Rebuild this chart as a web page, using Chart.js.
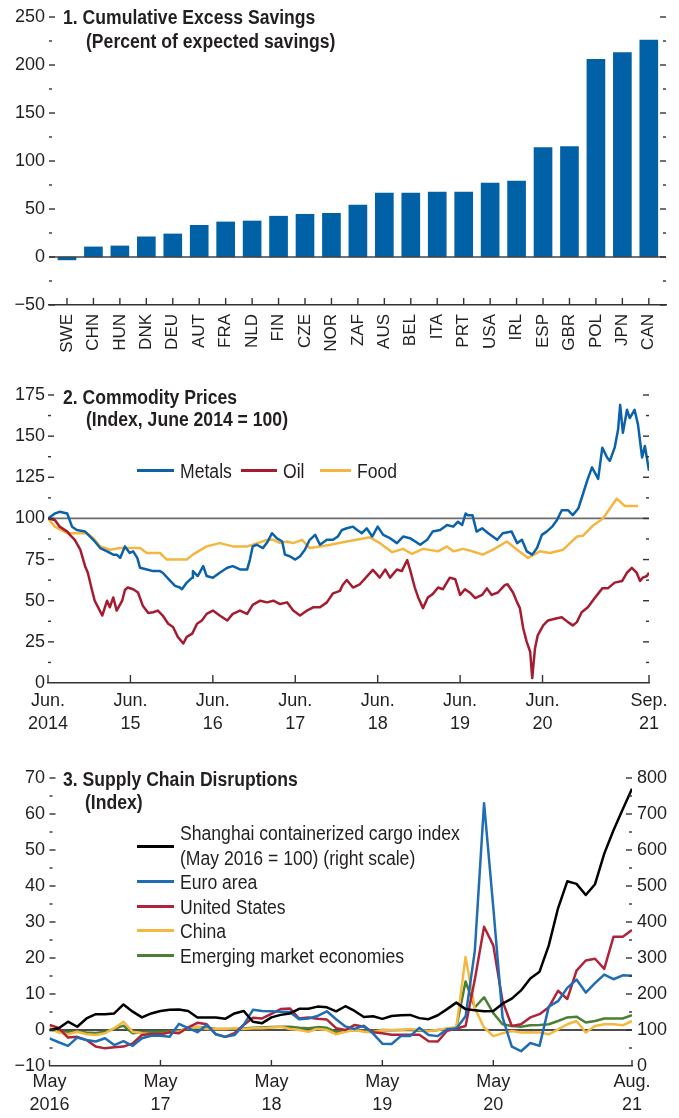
<!DOCTYPE html>
<html><head><meta charset="utf-8">
<script src="https://cdn.jsdelivr.net/npm/chart.js@4.4.1/dist/chart.umd.min.js"></script>
<style>
html,body{margin:0;padding:0;background:#fff;}
body{width:679px;height:1118px;position:relative;overflow:hidden;font-family:'Liberation Sans',Arial,sans-serif;color:#231f20;}
canvas{position:absolute;left:0;}
.t{position:absolute;font-weight:bold;font-size:20px;white-space:nowrap;line-height:20px;transform:scaleX(0.88);transform-origin:0 0;}
.lg{position:absolute;font-size:20px;white-space:nowrap;line-height:20px;transform:scaleX(0.88);transform-origin:0 0;}
.sw{position:absolute;height:3px;}
</style></head><body>
<canvas id="c1" width="679" height="360" style="top:0px"></canvas>
<canvas id="c2" width="679" height="380" style="top:360px"></canvas>
<canvas id="c3" width="679" height="378" style="top:740px"></canvas>

<div class="t" style="left:63px;top:7px">1. Cumulative Excess Savings</div>
<div class="t" style="left:86px;top:31px">(Percent of expected savings)</div>

<div class="t" style="left:63px;top:387px">2. Commodity Prices</div>
<div class="t" style="left:86px;top:409px">(Index, June 2014 = 100)</div>
<div class="sw" style="left:137px;width:37px;top:469px;background:#0b62ab"></div>
<div class="lg" style="left:180px;top:461px">Metals</div>
<div class="sw" style="left:241px;width:36px;top:469px;background:#a51c30"></div>
<div class="lg" style="left:283px;top:461px">Oil</div>
<div class="sw" style="left:320px;width:31px;top:469px;background:#f4b63f"></div>
<div class="lg" style="left:357px;top:461px">Food</div>

<div class="t" style="left:63px;top:769px">3. Supply Chain Disruptions</div>
<div class="t" style="left:85px;top:792px">(Index)</div>
<div class="sw" style="left:137px;width:37px;top:845px;background:#000"></div>
<div class="lg" style="left:180px;top:823px">Shanghai containerized cargo index</div>
<div class="lg" style="left:180px;top:848px">(May 2016 = 100) (right scale)</div>
<div class="sw" style="left:137px;width:37px;top:880px;background:#1f6db5"></div>
<div class="lg" style="left:180px;top:872px">Euro area</div>
<div class="sw" style="left:137px;width:37px;top:905px;background:#b0243a"></div>
<div class="lg" style="left:180px;top:897px">United States</div>
<div class="sw" style="left:137px;width:37px;top:929px;background:#f5b942"></div>
<div class="lg" style="left:180px;top:921px">China</div>
<div class="sw" style="left:137px;width:37px;top:954px;background:#4b7f33"></div>
<div class="lg" style="left:180px;top:946px">Emerging market economies</div>

<script>
// ---------- Panel 1 data ----------
const savingsCountries = ['SWE','CHN','HUN','DNK','DEU','AUT','FRA','NLD','FIN','CZE','NOR','ZAF','AUS','BEL','ITA','PRT','USA','IRL','ESP','GBR','POL','JPN','CAN'];
const savingsValues = [-3,10.5,11.5,21,24,33,36.5,37.5,42.5,44.5,45.5,54,66.5,66.5,67.5,67.5,77,79,114,115,206,213,226];
const savingsTicks = [-50,0,50,100,150,200,250];

// ---------- Panel 2 data (x = months since June 2014) ----------
const commodityTickMonths = [0,12,24,36,48,60,72,87.5];
const commodityTickLabels = [['Jun.','2014'],['Jun.','15'],['Jun.','16'],['Jun.','17'],['Jun.','18'],['Jun.','19'],['Jun.','20'],['Sep.','21']];
const commodityTicks = [0,25,50,75,100,125,150,175];
const metals = [[0,100],[1.0,103],[1.7,104],[2.8,103],[3.5,95],[4.2,93],[5.4,92],[6.6,87],[7.6,82],[8.6,80],[9.5,78],[10.0,78],[10.5,76],[11.2,83],[11.9,79],[12.4,80],[13.0,76],[13.4,70],[14.4,69],[15.3,68],[16.3,68],[16.7,67],[17.8,62],[18.5,59],[19.2,58],[19.5,57],[20.2,61],[21.0,64],[21.1,68],[21.8,65],[22.6,71],[23.1,65],[24.0,64],[25.0,67],[26.1,70],[26.9,71],[27.95,69],[29.0,69],[29.4,75],[29.8,83],[30.4,84],[31.3,82],[32.0,86],[32.6,91],[33.3,88],[34.1,86],[34.5,78],[35.2,77],[36.0,75],[36.7,77],[37.4,81],[38.1,87],[38.9,90],[39.6,84],[40.6,87],[41.5,87],[42.2,89],[42.8,93],[43.5,94],[44.4,95],[45.0,93],[45.7,91],[46.4,94],[47.2,89],[48.0,95],[48.8,90],[49.8,88],[50.8,85],[51.7,89],[52.7,88],[54.2,84],[55.2,87],[56.0,92],[57.1,93],[58.1,96],[59.0,95],[59.7,98],[60.3,96],[60.8,103],[61.1,102],[61.8,102],[62.4,92],[63.2,94],[64.1,91],[65.4,87],[66.2,91],[67.5,92],[68.3,85],[69.0,87],[69.7,80],[70.5,78],[71.2,82],[71.9,90],[72.6,92],[73.4,95],[74.1,99],[74.8,105],[75.7,105],[76.4,102],[77.2,106],[77.9,115],[78.5,123],[79.2,131],[79.6,128],[80.1,124],[80.7,143],[81.4,137],[81.8,135],[82.5,143],[83.0,154],[83.3,169],[83.7,152],[84.3,166],[84.7,161],[85.4,166],[85.9,157],[86.5,137],[86.9,144],[87.5,129]];
const oil = [[0,100],[1.0,99],[1.7,95],[2.8,92],[3.2,90],[3.9,87],[4.7,81],[5.4,71],[5.8,67],[6.4,56.5],[6.8,50],[7.3,46],[7.9,41],[8.6,50],[9.0,46],[9.5,52],[10.0,44],[10.8,50],[11.2,56.5],[11.6,58],[12.4,57],[13.1,55],[13.8,47],[14.6,42.5],[15.3,43],[16.0,44],[16.7,41],[17.5,36],[18.2,34],[18.9,28],[19.7,24],[20.2,28],[21.0,30],[21.7,36],[22.4,38],[23.1,42],[24.0,44],[25.0,41],[26.1,38],[26.9,42],[27.95,44],[29.0,42],[29.8,47.5],[30.9,50],[31.9,49],[32.8,50],[33.8,48],[34.8,49],[35.7,44],[36.7,41],[37.7,44],[38.6,46],[39.6,46],[40.6,49],[41.5,54.5],[42.5,56],[42.9,59.5],[43.5,62.6],[44.4,58],[45.4,60],[46.4,64.6],[47.3,68.7],[48.3,64],[49.1,69],[49.8,64],[50.8,69],[51.5,68],[52.3,74.7],[52.7,69],[53.4,58],[53.9,52],[54.6,45.5],[55.3,52],[56.0,54],[56.8,58],[57.5,57],[58.5,64],[59.3,63],[60.0,53.5],[60.7,57],[61.4,55],[62.2,51.6],[63.2,53.5],[63.9,57.5],[64.6,53.5],[65.5,55],[66.5,59.5],[66.9,60],[67.7,55],[68.3,49],[68.7,45.5],[69.2,33],[69.7,25],[70.2,19],[70.5,3],[70.9,21],[71.3,29],[72.1,35],[72.8,38],[73.8,39],[74.8,40],[75.7,37],[76.4,35],[77.0,37],[77.7,43],[78.6,46],[79.6,51.6],[80.7,57.5],[81.5,57.5],[82.5,61],[83.6,62],[84.3,67],[85.0,70],[85.7,67],[86.2,62],[86.6,64],[87.2,65],[87.5,67]];
const food = [[0,100],[1.0,95],[2.8,91],[5.7,91],[6.6,88],[7.6,83],[9.0,81],[10.5,82],[13.4,82],[14.4,79],[16.3,79],[17.3,75],[20.2,75],[21.1,78],[23.1,83],[25.0,85],[26.9,83],[29.0,83],[29.8,84],[31.9,87],[32.8,87],[33.8,85],[34.8,86],[35.7,85],[37.0,87],[38.1,82],[39.6,83],[41.1,84],[43.5,86],[46.9,88.5],[48.3,85],[50.1,79.5],[51.7,81.5],[53.0,78.4],[54.6,81.5],[56.8,80],[58.1,83],[59.0,80],[60.4,81.5],[61.4,80.5],[63.3,78],[64.8,81],[66.8,86],[68.3,81],[69.9,76],[71.6,80],[73.1,79],[75.0,81],[77.0,89],[77.9,89.5],[79.3,95.5],[80.8,100],[82.8,112],[84.0,107.5],[85.9,107.5]];

// ---------- Panel 3 data (monthly, May 2016 = month 0 ... Aug. 2021 = month 63) ----------
const supplyTickMonths = [0,12,24,36,48,63];
const supplyTickLabels = [['May','2016'],['May','17'],['May','18'],['May','19'],['May','20'],['Aug.','21']];
const supplyLeftTicks = [-10,0,10,20,30,40,50,60,70];
const supplyRightTicks = [0,100,200,300,400,500,600,700,800];
const shanghai = [100,105,123,109,132,144,144,146,171,151,135,146,153,156,157,153,135,135,135,131,146,153,123,119,135,142,146,159,159,165,163,152,166,153,136,138,131,139,141,142,133,130,141,158,176,158,155,152,153,173,187,210,243,262,335,438,513,506,475,505,590,655,713,770];
const euroArea = [-2.3,-3.4,-4.4,-2.1,-2.8,-3.2,-2.3,-4.2,-3.1,-4.4,-2.3,-1.6,-1.6,-1.9,1.7,0.5,-0.6,1.4,-1.2,-1.9,-1.4,1.4,5.6,5.3,5.2,5.1,5.0,3.0,3.2,3.9,5.2,3.0,1.0,0.3,1.2,-1.0,-3.8,-3.9,-1.7,-1.7,0.6,-1.4,-1.7,0.2,0.4,3.8,22,63,34,3.5,-4.6,-5.9,-3.6,-4.4,6.5,8,11.7,14,10.4,13,15.4,14.1,15.2,15.1];
const unitedStates = [1.4,0.6,-2.1,-1.9,-2.8,-4.6,-5.1,-4.8,-4.6,-3.7,-1.4,-1.1,-1.2,-0.6,-0.9,0.7,2.0,1.6,-1.2,-1.9,-0.9,1.4,3.4,3.2,4.5,5.8,6.0,3.2,3.5,3.1,2.9,0.5,0,1.4,0.9,-0.6,-0.9,-1.3,-1.3,-1.3,-1.3,-3.1,-3.2,-0.2,0.4,1.1,14,28.7,23.5,8,1.1,1.6,3.5,4.4,6.3,10.9,8.6,16.5,19.3,19.8,17,25.9,25.9,27.8];
const china = [0.5,-0.7,-1.2,-0.5,-1.2,-1.4,-0.9,0.5,2.3,-0.5,-0.9,-1.2,-1.2,-0.6,-0.5,0.5,0.9,0.3,0.3,0.3,0.5,0.3,0.5,0.5,0.7,0.9,0.3,0,-0.5,0.3,0,-1.2,-0.5,0,-0.5,-0.6,0,0,0,0.3,0,-0.3,0,0.5,0.7,20.3,6,0.7,-1.7,-0.9,-0.3,-0.7,-0.6,-0.7,-1.2,0.2,1.6,2.5,-0.7,1.1,1.6,1.6,1.3,2.5];
const emergingMarkets = [0,-0.3,-0.6,-0.4,-0.7,-0.8,-0.5,0.3,1.2,-0.9,-0.6,-0.5,-0.5,-0.4,-0.3,0.6,0.8,0.6,0.3,0.3,0.3,0.4,0.6,0.7,0.8,0.9,0.9,0.6,0.5,0.8,0.6,-0.5,-0.2,0,-0.3,-0.2,0,-0.1,0,0,-0.2,-0.3,0,0.3,0.7,13.5,6.3,9.1,4.7,1.6,1.1,0.9,1.3,1.4,1.6,2.5,3.5,3.7,2.1,2.5,3.2,3.2,3.2,4.1];

// ---------- helpers ----------
Chart.defaults.font.family = "'Liberation Sans',Arial,sans-serif";
Chart.defaults.font.size = 18;
Chart.defaults.color = '#231f20';
Chart.defaults.animation = false;
Chart.defaults.plugins.legend.display = false;
Chart.defaults.plugins.tooltip.enabled = false;

const fmt = v => v < 0 ? '\u2212' + Math.abs(v) : String(v);
function range(a, b, s){ const r=[]; for(let v=a; v<=b+1e-9; v+=s) r.push(v); return r; }

const axisMarks = {
  id: 'axisMarks',
  beforeDatasetsDraw(chart, args, o){ drawLines(chart, (o.lines||[]).filter(l=>!l.front)); },
  afterDatasetsDraw(chart, args, o){
    drawLines(chart, (o.lines||[]).filter(l=>l.front));
    const ctx = chart.ctx, a = chart.chartArea;
    ctx.save();
    ctx.strokeStyle = o.color || '#333';
    ctx.lineWidth = o.width || 1.4;
    (o.yTicks||[]).forEach(t=>{
      const s = chart.scales[t.axis];
      t.values.forEach(v=>{
        const y = s.getPixelForValue(v);
        ctx.beginPath();
        if (t.side === 'left'){ ctx.moveTo(a.left, y); ctx.lineTo(a.left + t.len, y); }
        else { ctx.moveTo(a.right, y); ctx.lineTo(a.right - t.len, y); }
        ctx.stroke();
      });
    });
    (o.xTicks||[]).forEach(t=>{
      const s = chart.scales[t.axis];
      t.values.forEach(v=>{
        const x = s.getPixelForValue(v);
        ctx.beginPath(); ctx.moveTo(x, a.bottom); ctx.lineTo(x, a.bottom - t.len); ctx.stroke();
      });
    });
    ctx.restore();
  }
};
function drawLines(chart, lines){
  const ctx = chart.ctx, a = chart.chartArea;
  lines.forEach(l=>{
    const y = chart.scales[l.axis].getPixelForValue(l.value);
    ctx.save(); ctx.strokeStyle = l.color; ctx.lineWidth = l.width;
    ctx.beginPath(); ctx.moveTo(a.left, y); ctx.lineTo(a.right, y); ctx.stroke(); ctx.restore();
  });
}
const noGrid = {display:false, drawTicks:false};

// ---------- Panel 1 ----------
new Chart(document.getElementById('c1'), {
  type: 'bar',
  data: { datasets: [{
    data: savingsValues.map((v,i)=>({x:i, y:v})),
    backgroundColor: '#0061a7', borderWidth: 0, barThickness: 18
  }]},
  options: {
    responsive: false, devicePixelRatio: 1,
    layout: { padding: { top: 17, right: 13, left: 0, bottom: 0 } },
    scales: {
      x: { type:'linear', min:-0.68, max:22.65, offset:false, grid: noGrid,
           border:{display:true, color:'#333', width:1.5},
           afterBuildTicks: s => { s.ticks = savingsCountries.map((c,i)=>({value:i})); },
           ticks: { autoSkip:false, minRotation:90, maxRotation:90, padding:9, font:{size:17}, callback: v => savingsCountries[v] },
           afterFit: s => { s.height = 55; } },
      y: { min:-50, max:250, grid: noGrid, border:{display:false},
           afterBuildTicks: s => { s.ticks = savingsTicks.map(v=>({value:v})); },
           ticks: { padding:4, callback: fmt },
           afterFit: s => { s.width = 49; } }
    },
    plugins: { axisMarks: {
      lines: [{axis:'y', value:0, color:'#444', width:1.5, front:true}],
      yTicks: [
        {axis:'y', side:'left', values: range(-50,250,50), len:6},
        {axis:'y', side:'left', values: range(-25,225,50), len:3},
        {axis:'y', side:'right', values: range(-50,250,50), len:6},
        {axis:'y', side:'right', values: range(-25,225,50), len:3}
      ],
      xTicks: [{axis:'x', values: savingsCountries.map((c,i)=>i), len:7}]
    }}
  },
  plugins: [axisMarks]
});

// ---------- Panel 2 ----------
const lineStyle = {borderWidth:2.5, pointRadius:0, tension:0, borderJoinStyle:'round', fill:false};
new Chart(document.getElementById('c2'), {
  type: 'line',
  data: { datasets: [
    Object.assign({label:'Metals', data: metals.map(p=>({x:p[0], y:p[1]})), borderColor:'#0b62ab'}, lineStyle),
    Object.assign({label:'Oil', data: oil.map(p=>({x:p[0], y:p[1]})), borderColor:'#a51c30'}, lineStyle),
    Object.assign({label:'Food', data: food.map(p=>({x:p[0], y:p[1]})), borderColor:'#f4b63f'}, lineStyle)
  ]},
  options: {
    responsive: false, devicePixelRatio: 1,
    layout: { padding: { top: 35, right: 30, left: 0, bottom: 0 } },
    scales: {
      x: { type:'linear', min:0, max:87.5, grid: noGrid,
           border:{display:true, color:'#333', width:1.5},
           afterBuildTicks: s => { s.ticks = commodityTickMonths.map(v=>({value:v})); },
           ticks: { autoSkip:false, maxRotation:0, minRotation:0, padding:6.5, font:{size:18, lineHeight:1.28}, callback: (v,i) => commodityTickLabels[i] },
           afterFit: s => { s.height = 57; } },
      y: { min:0, max:175, grid: noGrid, border:{display:false},
           afterBuildTicks: s => { s.ticks = commodityTicks.map(v=>({value:v})); },
           ticks: { padding:3, callback: fmt },
           afterFit: s => { s.width = 48; } }
    },
    plugins: { axisMarks: {
      lines: [{axis:'y', value:100, color:'#6d6d6d', width:1.8}],
      yTicks: [
        {axis:'y', side:'left', values: range(25,175,25), len:6},
        {axis:'y', side:'left', values: range(12.5,162.5,25), len:3},
        {axis:'y', side:'right', values: range(25,175,25), len:6},
        {axis:'y', side:'right', values: range(12.5,162.5,25), len:3}
      ],
      xTicks: [{axis:'x', values: commodityTickMonths, len:8}]
    }}
  },
  plugins: [axisMarks]
});

// ---------- Panel 3 ----------
new Chart(document.getElementById('c3'), {
  type: 'line',
  data: { datasets: [
    Object.assign({label:'Shanghai', yAxisID:'y2', data: shanghai.map((v,i)=>({x:i, y:v})), borderColor:'#000'}, lineStyle),
    Object.assign({label:'Euro area', data: euroArea.map((v,i)=>({x:i, y:v})), borderColor:'#1f6db5'}, lineStyle),
    Object.assign({label:'United States', data: unitedStates.map((v,i)=>({x:i, y:v})), borderColor:'#b0243a'}, lineStyle),
    Object.assign({label:'China', data: china.map((v,i)=>({x:i, y:v})), borderColor:'#f5b942'}, lineStyle),
    Object.assign({label:'Emerging market economies', data: emergingMarkets.map((v,i)=>({x:i, y:v})), borderColor:'#4b7f33'}, lineStyle)
  ]},
  options: {
    responsive: false, devicePixelRatio: 1,
    layout: { padding: { top: 38, right: 0, left: 0, bottom: 0 } },
    scales: {
      x: { type:'linear', min:0, max:63, grid: noGrid,
           border:{display:true, color:'#333', width:1.5},
           afterBuildTicks: s => { s.ticks = supplyTickMonths.map(v=>({value:v})); },
           ticks: { autoSkip:false, maxRotation:0, minRotation:0, padding:4.5, font:{size:18, lineHeight:1.28}, callback: (v,i) => supplyTickLabels[i] },
           afterFit: s => { s.height = 52; } },
      y: { position:'left', min:-10, max:70, grid: noGrid, border:{display:false},
           afterBuildTicks: s => { s.ticks = supplyLeftTicks.map(v=>({value:v})); },
           ticks: { padding:4.5, callback: fmt },
           afterFit: s => { s.width = 49.5; } },
      y2: { position:'right', min:0, max:800, grid: noGrid, border:{display:false},
           afterBuildTicks: s => { s.ticks = supplyRightTicks.map(v=>({value:v})); },
           ticks: { padding:5, callback: fmt },
           afterFit: s => { s.width = 47; } }
    },
    plugins: { axisMarks: {
      lines: [{axis:'y', value:0, color:'#111', width:1.5}],
      yTicks: [
        {axis:'y', side:'left', values: range(0,70,10), len:6},
        {axis:'y', side:'left', values: range(-5,65,10), len:3},
        {axis:'y2', side:'right', values: range(100,800,100), len:6},
        {axis:'y2', side:'right', values: range(50,750,100), len:3}
      ],
      xTicks: [{axis:'x', values: supplyTickMonths, len:6}]
    }}
  },
  plugins: [axisMarks]
});
</script>
</body></html>
